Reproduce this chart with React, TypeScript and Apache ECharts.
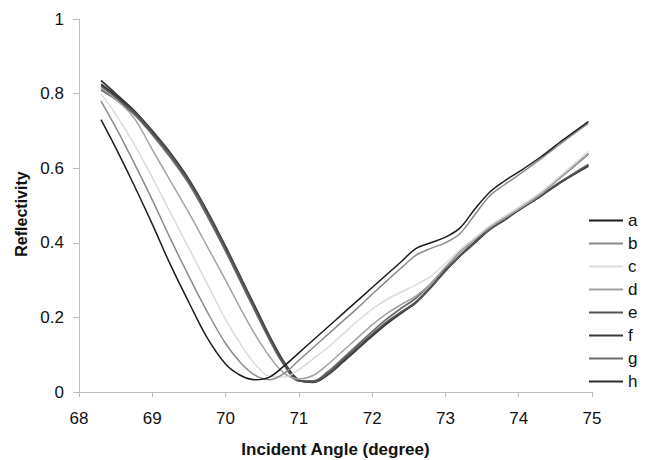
import React, { useEffect, useRef } from "react";
import * as echarts from "echarts";

// Incident angle grid (degree) shared by all reflectivity curves
const angles = [
  68.3, 68.5, 68.75, 69.0, 69.25, 69.5, 69.75, 70.0, 70.2, 70.4, 70.6, 70.8,
  71.0, 71.2, 71.4, 71.6, 71.8, 72.0, 72.2, 72.4, 72.6, 72.8, 73.0, 73.2,
  73.4, 73.6, 73.8, 74.0, 74.3, 74.6, 74.95,
];

const curveA = [
  0.73, 0.655, 0.555, 0.45, 0.34, 0.24, 0.145, 0.075, 0.045, 0.033, 0.04, 0.07,
  0.105, 0.14, 0.175, 0.21, 0.245, 0.28, 0.315, 0.35, 0.385, 0.4, 0.415, 0.44,
  0.49, 0.535, 0.565, 0.59, 0.63, 0.675, 0.725,
];
const curveB = [
  0.78, 0.71, 0.615, 0.515, 0.41, 0.31, 0.215, 0.13, 0.08, 0.045, 0.033, 0.05,
  0.085, 0.12, 0.155, 0.19, 0.225, 0.262, 0.298, 0.333, 0.367, 0.385, 0.4,
  0.425, 0.475, 0.525, 0.555, 0.582, 0.625, 0.67, 0.72,
];
const curveC = [
  0.8, 0.745, 0.665, 0.575, 0.48, 0.385, 0.29, 0.195, 0.13, 0.075, 0.042, 0.04,
  0.06, 0.09, 0.12, 0.155, 0.19, 0.222, 0.248, 0.268, 0.288, 0.31, 0.345,
  0.382, 0.413, 0.445, 0.47, 0.495, 0.535, 0.585, 0.645,
];
const curveD = [
  0.815, 0.785, 0.735, 0.65, 0.565, 0.48, 0.39, 0.3, 0.225, 0.155, 0.095, 0.05,
  0.035, 0.045, 0.075, 0.11, 0.145, 0.18, 0.21, 0.235, 0.258, 0.29, 0.335,
  0.375, 0.41, 0.44, 0.465, 0.49, 0.53, 0.58, 0.64,
];
const curveE = [
  0.82, 0.79, 0.75, 0.695, 0.635, 0.565, 0.48, 0.385, 0.305, 0.225, 0.145,
  0.075, 0.03, 0.028, 0.05, 0.085, 0.12, 0.155, 0.188, 0.215, 0.242, 0.282,
  0.325, 0.365, 0.4, 0.435, 0.462, 0.49, 0.528, 0.567, 0.61,
];
const curveF = [
  0.835, 0.8, 0.755, 0.7, 0.64, 0.57, 0.485, 0.39, 0.31, 0.23, 0.15, 0.08,
  0.032, 0.026, 0.047, 0.08, 0.115, 0.15, 0.183, 0.212, 0.24, 0.28, 0.325,
  0.365, 0.4, 0.435, 0.46, 0.487, 0.525, 0.565, 0.605,
];
const curveG = [
  0.81, 0.785, 0.745, 0.69, 0.628, 0.558, 0.472, 0.378, 0.298, 0.218, 0.14,
  0.072, 0.03, 0.03, 0.055, 0.09, 0.126, 0.162, 0.196, 0.225, 0.252, 0.29,
  0.333, 0.375, 0.41, 0.442, 0.468, 0.493, 0.533, 0.58, 0.638,
];
const curveH = [
  0.825, 0.795, 0.752, 0.697, 0.637, 0.567, 0.482, 0.387, 0.307, 0.227, 0.147,
  0.077, 0.031, 0.027, 0.048, 0.082, 0.117, 0.152, 0.185, 0.213, 0.241, 0.281,
  0.326, 0.366, 0.402, 0.437, 0.463, 0.49, 0.527, 0.566, 0.608,
];

const seriesNames = ["a", "b", "c", "d", "e", "f", "g", "h"];
const seriesValues = [curveA, curveB, curveC, curveD, curveE, curveF, curveG, curveH];
const seriesColors = [
  "#1c1c1c",
  "#8a8a8a",
  "#dcdcdc",
  "#a2a2a2",
  "#555555",
  "#3a3a3a",
  "#6c6c6c",
  "#2e2e2e",
];

const xTicks = { min: 68, max: 75, interval: 1 };
const yTicks = { min: 0, max: 1, interval: 0.2 };

const FONT = "'Liberation Sans', Arial, sans-serif";

export default function App() {
  const ref = useRef<HTMLDivElement>(null);

  useEffect(() => {
    if (!ref.current) return;
    const chart = echarts.init(ref.current, undefined, { renderer: "svg" });

    const series = seriesNames.map((name, i) => ({
      name,
      type: "line",
      smooth: 0.35,
      symbol: "none",
      showSymbol: false,
      lineStyle: { color: seriesColors[i], width: i >= 4 ? 1.8 : 1.5 },
      itemStyle: { color: seriesColors[i] },
      data: angles.map((a, k) => [a, seriesValues[i][k]]),
      z: 10 - i,
    }));

    chart.setOption({
      animation: false,
      backgroundColor: "#ffffff",
      textStyle: { fontFamily: FONT },
      grid: { left: 79, right: 63, top: 19, bottom: 68, outerBoundsMode: "none" },
      legend: {
        orient: "vertical",
        left: 589,
        top: 212,
        padding: 0,
        itemWidth: 34,
        itemHeight: 16,
        itemGap: 6,
        icon: "path://M0,0 L34,0 L34,2 L0,2 Z",
        textStyle: { fontSize: 17, color: "#111", fontFamily: FONT },
        data: seriesNames.map((n, i) => ({ name: n, itemStyle: { color: seriesColors[i] } })),
      },
      graphic: [
        {
          type: "text",
          x: 21,
          y: 214,
          rotation: Math.PI / 2,
          style: {
            text: "Reflectivity",
            x: 0,
            y: 0,
            align: "center",
            verticalAlign: "middle",
            fontSize: 16,
            fontWeight: "bold",
            fontFamily: FONT,
            fill: "#111",
          },
        },
      ],
      xAxis: {
        type: "value",
        min: xTicks.min,
        max: xTicks.max,
        interval: xTicks.interval,
        name: "Incident Angle (degree)",
        nameLocation: "middle",
        nameGap: 49,
        nameTextStyle: { fontSize: 17, fontWeight: "bold", color: "#111", fontFamily: FONT },
        axisLine: { show: true, lineStyle: { color: "#bcbcbc", width: 1 } },
        axisTick: { show: true, length: 5, lineStyle: { color: "#bcbcbc" } },
        axisLabel: { fontSize: 17, color: "#111", margin: 18, fontFamily: FONT },
        splitLine: { show: false },
      },
      yAxis: {
        type: "value",
        min: yTicks.min,
        max: yTicks.max,
        interval: yTicks.interval,
        axisLine: { show: true, lineStyle: { color: "#bcbcbc", width: 1 } },
        axisTick: { show: true, length: 6, lineStyle: { color: "#bcbcbc" } },
        axisLabel: { fontSize: 17, color: "#111", margin: 15, fontFamily: FONT },
        splitLine: { show: false },
      },
      series,
    });

    return () => chart.dispose();
  }, []);

  return (
    <div
      ref={ref}
      style={{ position: "absolute", left: 0, top: 0, width: 655, height: 460 }}
    />
  );
}
